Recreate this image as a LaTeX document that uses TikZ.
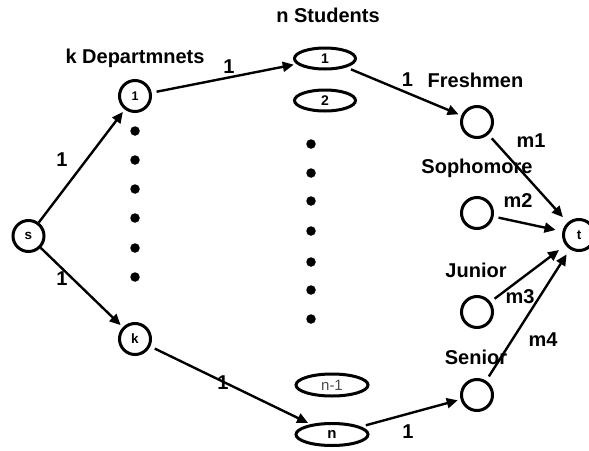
\documentclass[tikz,border=0pt]{standalone}
\usepackage{fontspec}
\setmainfont{Liberation Sans}
\usetikzlibrary{arrows.meta,shapes.geometric}
\tikzset{
  circ/.style={circle,draw,line width=3pt,minimum size=31pt,inner sep=0pt,font=\fontsize{13.5}{15}\selectfont\bfseries},
  ell/.style={ellipse,draw,line width=3pt,minimum width=61pt,minimum height=21pt,inner sep=0pt,font=\fontsize{14}{16}\selectfont\bfseries},
  ellw/.style={ell,minimum width=72pt,minimum height=22pt},
  lbl/.style={font=\fontsize{20}{24}\selectfont\bfseries,inner sep=0pt},
  dotn/.style={circle,fill,minimum size=9.5pt,inner sep=0pt},
  arr/.style={line width=2.4pt,-{Triangle[length=11pt,width=10pt]},shorten <=5pt,shorten >=3pt}
}
\begin{document}
\begin{tikzpicture}[x=1pt,y=-1pt]
\useasboundingbox (0,0) rectangle (589,450);
% nodes
\node[circ] (s) at (28.5,236) {s};
\node[circ,font=\fontsize{12.5}{14}\selectfont\bfseries] (d1) at (135,96) {1};
\node[circ] (dk) at (135,339) {k};
\node[ell] (st1) at (325,58.5) {1};
\node[ell] (st2) at (325,100.5) {2};
\node[ellw,font=\fontsize{15}{17}\selectfont,text=black!70] (stn1) at (332,385) {n-1};
\node[ellw,font=\fontsize{15}{17}\selectfont\bfseries] (stn) at (332,434.5) {n};
\node[circ] (fr) at (477,122) {};
\node[circ] (so) at (477,213) {};
\node[circ] (ju) at (477,312) {};
\node[circ] (se) at (477,395) {};
\node[circ] (t) at (579,235) {t};
% dots
\foreach \y [count=\i] in {131,160,189,218,248,277}
  \node[dotn] (dd\i) at (135,\y) {};
\foreach \y [count=\i] in {144,173,201,231,262,290,319}
  \node[dotn] (sd\i) at (311,\y) {};
% labels
\node[lbl] (lstud) at (328,15) {n Students};
\node[lbl] (ldept) at (135,58) {k Departmnets};
\node[lbl] (l1) at (62,160) {1};
\node[lbl] (l2) at (62,279) {1};
\node[lbl] (l3) at (229,67) {1};
\node[lbl] (l4) at (223,383) {1};
\node[lbl] (l5) at (407.5,80) {1};
\node[lbl] (l6) at (408,432) {1};
\node[lbl] (lfr) at (475.5,80) {Freshmen};
\node[lbl] (lso) at (477,168) {Sophomore};
\node[lbl] (lju) at (476,270) {Junior};
\node[lbl] (lse) at (476,357) {Senior};
\node[lbl] (m1) at (531,141) {m1};
\node[lbl] (m2) at (518,201) {m2};
\node[lbl] (m3) at (520,297) {m3};
\node[lbl] (m4) at (543,340) {m4};
% edges
\draw[arr,shorten <=0pt] (s) -- (d1);
\draw[arr,shorten <=0pt] (s) -- (dk);
\draw[arr] (d1) -- (st1);
\draw[arr] (dk) -- (stn);
\draw[arr] (st1) -- (fr);
\draw[arr] (stn) -- (se);
\draw[arr,shorten >=7pt] (fr) -- (t);
\draw[arr,shorten >=7pt] (so) -- (t);
\draw[arr,shorten >=8pt] (ju) -- (t);
\draw[arr,shorten >=6pt] (se) -- (t);
\end{tikzpicture}
\end{document}
